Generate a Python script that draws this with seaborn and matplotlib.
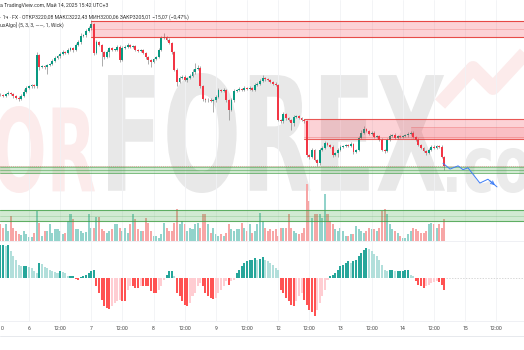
import numpy as np
import pandas as pd
import matplotlib
matplotlib.use("Agg")
import matplotlib.pyplot as plt
import seaborn as sns
from matplotlib.textpath import TextPath
from matplotlib.patches import PathPatch, Rectangle
from matplotlib.font_manager import FontProperties
from matplotlib.transforms import Affine2D, blended_transform_factory

sns.set_theme(style="white")
plt.rcParams['font.family'] = ['Roboto', 'DejaVu Sans']

# ---------------- data (XAUUSD 1h) ----------------
first_open = 3318
close = [
    3317, 3316, 3319, 3320, 3319, 3316, 3313, 3311, 3316, 3322, 3328, 3331, 3333, 3331, 3380, 3361, 3363, 3361, 3364, 3366,
    3371, 3375, 3378, 3382, 3385, 3383, 3388, 3391, 3388, 3396, 3400, 3410, 3411, 3418, 3422, 3429, 3383, 3400, 3396, 3385,
    3377, 3385, 3391, 3388, 3388, 3393, 3372, 3391, 3393, 3396, 3393, 3394, 3388, 3386, 3388, 3383, 3377, 3372, 3369, 3374,
    3377, 3388, 3407, 3408, 3404, 3399, 3385, 3357, 3338, 3344, 3346, 3341, 3344, 3347, 3353, 3358, 3360, 3331, 3311, 3309,
    3310, 3308, 3309, 3314, 3325, 3324, 3325, 3309, 3294, 3309, 3324, 3325, 3327, 3325, 3328, 3327, 3328, 3325, 3333, 3335,
    3339, 3344, 3342, 3341, 3338, 3335, 3333, 3278, 3276, 3287, 3281, 3278, 3273, 3283, 3284, 3281, 3278, 3276, 3223, 3220,
    3231, 3215, 3210, 3231, 3234, 3242, 3239, 3236, 3223, 3226, 3231, 3236, 3237, 3239, 3237, 3240, 3228, 3231, 3250, 3258,
    3264, 3261, 3256, 3258, 3251, 3253, 3247, 3231, 3229, 3247, 3253, 3254, 3250, 3253, 3251, 3253, 3254, 3256, 3258, 3251,
    3247, 3239, 3234, 3229, 3226, 3231, 3236, 3234, 3237, 3236, 3220, 3205,
]
wick_up = [
    2, 2, 2, 3, 2, 2, 2, 2, 3, 4, 3, 2, 2, 2, 5, 2, 2, 2, 2, 2,
    2, 3, 2, 2, 3, 2, 3, 2, 2, 3, 3, 4, 2, 3, 3, 6, 2, 4, 2, 2,
    2, 3, 2, 2, 2, 3, 2, 3, 2, 3, 2, 2, 2, 2, 2, 2, 2, 2, 2, 2,
    2, 3, 3, 7, 2, 2, 2, 2, 2, 3, 2, 2, 2, 3, 5, 9, 4, 2, 2, 2,
    2, 2, 2, 3, 3, 2, 3, 2, 2, 3, 3, 2, 3, 2, 3, 2, 3, 2, 3, 2,
    4, 5, 2, 2, 2, 2, 2, 2, 2, 4, 2, 2, 2, 3, 2, 2, 2, 2, 2, 2,
    3, 2, 2, 3, 3, 3, 2, 2, 2, 2, 3, 2, 2, 2, 2, 3, 2, 2, 3, 4,
    4, 2, 2, 2, 2, 2, 2, 2, 2, 3, 3, 2, 3, 2, 2, 2, 2, 3, 3, 2,
    2, 2, 2, 2, 2, 3, 3, 2, 2, 2, 2, 2,
]
wick_dn = [
    2, 2, 2, 2, 2, 3, 2, 3, 2, 2, 2, 2, 2, 2, 2, 5, 2, 3, 11, 2,
    2, 2, 2, 2, 2, 2, 2, 2, 3, 2, 2, 2, 2, 2, 2, 2, 3, 2, 2, 22,
    3, 2, 8, 2, 2, 2, 3, 2, 2, 2, 2, 2, 2, 2, 2, 2, 3, 6, 8, 2,
    2, 2, 2, 2, 2, 2, 3, 2, 6, 2, 2, 2, 3, 2, 2, 2, 2, 2, 3, 2,
    3, 2, 17, 2, 2, 2, 2, 2, 16, 2, 2, 2, 2, 2, 2, 2, 2, 2, 2, 2,
    2, 2, 2, 2, 2, 2, 2, 2, 3, 2, 3, 2, 11, 5, 2, 2, 2, 2, 3, 4,
    2, 2, 4, 2, 2, 2, 2, 2, 3, 2, 6, 2, 2, 2, 2, 2, 3, 2, 2, 2,
    2, 2, 2, 2, 2, 2, 2, 2, 3, 2, 2, 2, 2, 2, 2, 2, 2, 2, 2, 2,
    2, 2, 2, 2, 3, 2, 2, 2, 2, 2, 2, 5,
]
volume = [
    17, 13, 17, 10, 25, 13, 10, 7, 6, 10, 7, 4, 4, 8, 30, 18, 5, 10, 10,
    17, 8, 12, 12, 10, 7, 8, 20, 27, 22, 12, 12, 10, 8, 9, 27, 13, 13, 24,
    24, 12, 10, 8, 10, 12, 17, 17, 13, 10, 13, 8, 17, 27, 22, 12, 10, 10, 23, 18,
    10, 5, 5, 3, 7, 18, 13, 10, 10, 18, 32, 17, 20, 17, 10, 13, 12, 17, 18, 13,
    27, 27, 17, 8, 13, 7, 5, 7, 5, 8, 17, 12, 10, 12, 12, 18, 13, 10, 17, 8, 10, 17, 28,
    20, 13, 10, 12, 10, 12, 5, 13, 13, 13, 27, 13, 10, 8, 7, 8, 13, 57, 40, 23,
    27, 27, 27, 23, 47, 27, 20, 17, 12, 10, 13, 10, 5, 5, 7, 7, 15, 12, 10, 8,
    10, 13, 12, 12, 10, 13, 30, 32, 27, 17, 12, 10, 8, 5, 3, 3, 7,
    10, 13, 12, 10, 8, 8, 10, 17, 18, 17, 13, 17, 13, 22,
]
macd_hist = [
    33, 33, 32, 33, 27, 22, 18, 13, 12, 12, 12, 11, 10, 7, 5, 15, 14, 11, 10, 8,
    7, 6, 5, 7, 6, 5, 2, 2, 2, -1, -2, 1, 2, 3, 5, 7, 8,
    -8, -15, -22, -28, -30, -31, -28, -25, -23, -22, -23, -23, -12, -8, -8, -10, -10, -8, -8, -8,
    -8, -13, -15, -15, -12, -8, -2,
    3, 7, 7, 2,
    -15, -18, -23, -27, -28, -25, -18, -15, -8, -5, -8, -15, -18, -20, -21, -20, -15, -12, -8, -3, -7, -3, -2,
    5, 8, 12, 15, 17, 18, 18, 20, 18, 19, 21, 18, 17, 15, 13, 10, 8,
    -12, -15, -20, -23, -27, -28, -23, -18, -15, -22, -27, -32, -34, -38, -32, -25, -18, -12, -2,
    2, 3, 5, 8, 12, 13, 15, 17, 15, 17, 18, 22, 25, 28, 30, 29, 27, 24, 22, 18,
    13, 8, 7, 8, 8, 7, 7, 7, 7, 8, 8, 3, 2,
    -3, -7, -8, -10, -8, -7, -5, -4, -3, -4, -7, -12,
]
# projected path (bar index, price)
proj_idx = [170.5, 173.2, 176.3, 178.2, 180.1, 184.7, 187.8, 191.3]
proj_px = [3210, 3201, 3206, 3200, 3203, 3179, 3185, 3173]

# zones (price levels)
zone_top = (3408, 3433, 35)          # low, high, start bar
zone_mid = (3248, 3280, 117)
zone_mid2 = (3247, 3267, 158)
zone_green1 = (3195, 3206, 0)
zone_green2 = (3118, 3137, 0)
last_price = 3205.01

tick_pos = [11, 23, 35, 47, 59, 71, 83, 95, 107, 119, 131, 143, 155, 167, 179, 191]
tick_lab = ["6", "12:00", "7", "12:00", "8", "12:00", "9", "12:00", "12",
            "12:00", "13", "12:00", "14", "12:00", "15", "12:00"]
cut_tick_pos = -1          # "12:00" of day 5, only its last "0" is visible

n = len(close)
for name, arr in [("wick_up", wick_up), ("wick_dn", wick_dn), ("volume", volume), ("macd_hist", macd_hist)]:
    assert len(arr) == n, f"{name} has {len(arr)} not {n}"

# ---------------- layout ----------------
W, H = 524, 350
fig = plt.figure(figsize=(W / 100, H / 100), dpi=100)
fig.patch.set_facecolor("white")

def rect(top, bottom):
    return [0, 1 - bottom / H, 1, (bottom - top) / H]

PX_PER_BAR = 2.596
X0 = 0.4
xlim = (-X0 / PX_PER_BAR, (W - X0) / PX_PER_BAR)

def p_of_y(y):
    return 3435 - 1.57 * (y - 20)

ax_bg = fig.add_axes([0, 0, 1, 1], zorder=0)
ax_bg.set_xlim(0, W); ax_bg.set_ylim(H, 0); ax_bg.axis("off")

ax_v = fig.add_axes(rect(0, 241), zorder=1)
ax_p = fig.add_axes(rect(0, 241), zorder=2)
ax_h = fig.add_axes(rect(241, 321), zorder=2)
for a in (ax_v, ax_p, ax_h):
    a.set_facecolor("none")

# watermark
def text_box(ax, s, x0, x1, ytop, ybot, color, weight="bold"):
    tp = TextPath((0, 0), s, size=100, prop=FontProperties(family="DejaVu Sans", weight=weight))
    ext = tp.get_extents()
    sx = (x1 - x0) / ext.width
    sy = (ybot - ytop) / ext.height
    tr = Affine2D().translate(-ext.x0, -ext.y0).scale(sx, -sy).translate(x0, ybot) + ax.transData
    ax.add_patch(PathPatch(tp, transform=tr, facecolor=color, edgecolor="none"))

text_box(ax_bg, "OR", -5, 95, 106, 193, "#fcebeb")
text_box(ax_bg, "FOREX", 108, 445, 73, 193, "#e8e8e8")
text_box(ax_bg, ".com", 447, 584, 148, 193, "#ebebeb")
ax_bg.plot([440, 473, 493, 530], [104, 68, 88, 48], color="#fcebeb", lw=10, solid_capstyle="butt")

# vertical grid + separators
bx = blended_transform_factory(ax_p.transData, fig.transFigure)
for t in [cut_tick_pos] + tick_pos:
    ax_p.plot([t, t], [1 - 321 / H, 1], transform=bx, color="#f1f2f5", lw=0.6, zorder=0, clip_on=False)
for yy, c in [(241, "#eceef2"), (321, "#eceef2"), (336, "#e3e5ea")]:
    ax_bg.axhline(yy, color=c, lw=0.6)

# ---------------- volume (seaborn) ----------------
opens = [first_open] + close[:-1]
direction = ["up" if c >= o else "down" for o, c in zip(opens, close)]
dfv = pd.DataFrame({"bar": np.arange(n), "volume": volume, "dir": direction})
sns.barplot(data=dfv, x="bar", y="volume", hue="dir", native_scale=True, dodge=False,
            palette={"up": "#92d3cb", "down": "#f7a6a6"}, saturation=1, width=0.78,
            linewidth=0, legend=False, ax=ax_v)
ax_v.set_xlim(*xlim); ax_v.set_ylim(0, 241); ax_v.axis("off")

# ---------------- candles ----------------
o = np.array(opens, float); c = np.array(close, float)
hi = np.maximum(o, c) + np.array(wick_up); lo = np.minimum(o, c) - np.array(wick_dn)
idx = np.arange(n)
up = c >= o
ax_p.vlines(idx, lo, hi, color="#8a8a8a", lw=0.5, zorder=3)
ax_p.bar(idx, np.maximum(np.abs(c - o), 0.9), bottom=np.minimum(o, c), width=0.72,
         color=np.where(up, "#089981", "#f23645"), linewidth=0, zorder=4)

def zone(ax, lo_, hi_, start, fc, ec, alpha, lines=()):
    ax.add_patch(Rectangle((start, lo_), xlim[1] - start + 5, hi_ - lo_, facecolor=fc, alpha=alpha,
                           edgecolor="none", zorder=5))
    for lv, lw, la in lines:
        ax.plot([start, xlim[1] + 5], [lv, lv], color=ec, lw=lw, alpha=la, zorder=6)

zone(ax_p, zone_top[0], zone_top[1], zone_top[2], "#f23645", "#e53935", 0.22,
     [(zone_top[0], 0.8, 0.9), (zone_top[1], 0.8, 0.9), (3421, 0.5, 0.3)])
zone(ax_p, zone_mid[0], zone_mid[1], zone_mid[2], "#f23645", "#e53935", 0.22,
     [(zone_mid[0], 0.8, 0.8), (zone_mid[1], 0.8, 0.8), (3251, 0.5, 0.4)])
zone(ax_p, zone_mid2[0], zone_mid2[1], zone_mid2[2], "#f23645", "#e53935", 0.12,
     [(zone_mid2[1], 0.5, 0.3)])
zone(ax_p, zone_green1[0], zone_green1[1], zone_green1[2], "#4caf50", "#43a047", 0.25,
     [(zone_green1[0], 0.6, 0.8), (3200, 0.6, 0.6), (3204, 0.6, 0.6)])
zone(ax_p, zone_green2[0], zone_green2[1], zone_green2[2], "#4caf50", "#43a047", 0.25,
     [(zone_green2[0] + 1, 0.8, 0.8), (zone_green2[1], 0.8, 0.8), (3127, 0.5, 0.3)])
ax_p.plot([0, xlim[1]], [last_price + 1, last_price + 1], color="#f23645", lw=0.5,
          ls=(0, (1.5, 1.5)), alpha=0.5, zorder=6)

# projection (seaborn line)
dfp = pd.DataFrame({"bar": proj_idx, "price": proj_px})
sns.lineplot(data=dfp, x="bar", y="price", color="#3d7df6", lw=0.7, ax=ax_p, zorder=7, sort=False)
ax_p.annotate("", xy=(proj_idx[-1], proj_px[-1]), xytext=(proj_idx[-2], proj_px[-2]),
              arrowprops=dict(arrowstyle="->", color="#3d7df6", lw=0.7, mutation_scale=6), zorder=7)

ax_p.set_xlim(*xlim); ax_p.set_ylim(p_of_y(241), p_of_y(0)); ax_p.axis("off")

# ---------------- histogram (seaborn) ----------------
hv = np.array(macd_hist, float)
prev = np.concatenate([[hv[0]], hv[:-1]])
kind = np.where(hv >= 0, np.where(hv >= prev, "pos_up", "pos_dn"), np.where(hv <= prev, "neg_dn", "neg_up"))
dfh = pd.DataFrame({"bar": idx, "hist": hv, "kind": kind})
sns.barplot(data=dfh, x="bar", y="hist", hue="kind", native_scale=True, dodge=False,
            palette={"pos_up": "#26a69a", "pos_dn": "#b2dfdb", "neg_dn": "#ff5252", "neg_up": "#ffcdd2"},
            saturation=1, width=0.78, linewidth=0, legend=False, ax=ax_h)
ax_h.plot([n - 0.5, xlim[1]], [0, 0], color="#c8c8c8", lw=0.5, ls=(0, (2, 2)))
ax_h.set_xlim(*xlim); ax_h.set_ylim(-42.7, 37.3); ax_h.axis("off")

# ---------------- texts ----------------
bt = blended_transform_factory(ax_p.transData, fig.transFigure)
for t, lab in zip(tick_pos, tick_lab):
    ax_p.text(t, 1 - 329 / H, lab, transform=bt, ha="center", va="center", fontsize=3.7,
              color="#444444", clip_on=False)
fig.text(0.5 / W, 1 - 329 / H, "0", ha="left", va="center", fontsize=3.7, color="#444444")

fig.text(0.0, 1 - 6 / H, "а TradingView.com, Май 14, 2025 15:42 UTC+3", fontsize=3.7,
         color="#333333", va="center", ha="left")
fig.text(0.0, 1 - 17 / H, "· 1ч · FX · ОТКР3220,08 МАКС3222,43 МИН3200,06 ЗАКР3205,01 −15,07 (−0,47%)",
         fontsize=3.7, color="#333333", va="center", ha="left")
fig.text(0.0, 1 - 25 / H, "uxAlgo] (5, 3, 3, ——, 1, Wick)", fontsize=3.7,
         color="#333333", va="center", ha="left")

fig.savefig("out.png", dpi=100, facecolor="white")
